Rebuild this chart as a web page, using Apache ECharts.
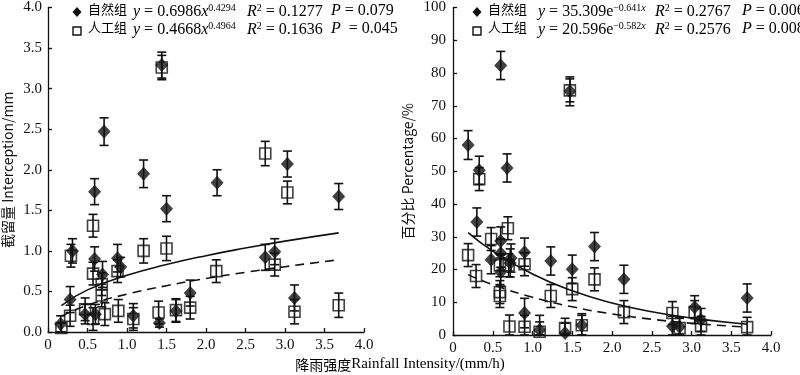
<!DOCTYPE html>
<html><head><meta charset="utf-8">
<script src="https://cdn.jsdelivr.net/npm/echarts@6/dist/echarts.min.js"></script>
<style>html,body{margin:0;padding:0;background:#fff}#c{width:800px;height:375px}</style>
</head><body><div id="c"></div>
<script>
// ---- Left panel: interception (mm) ----
const L_nat_x = [0.16,0.28,0.31,0.47,0.60,0.59,0.59,0.69,0.71,0.88,0.92,1.08,1.21,1.41,1.44,1.50,1.62,1.80,2.14,2.75,2.87,3.03,3.12,3.68];
const L_nat_y = [0.10,0.40,1.00,0.22,0.22,0.90,1.73,0.71,2.47,0.91,0.80,0.20,1.95,0.11,3.29,1.52,0.26,0.48,1.84,0.92,0.99,2.07,0.42,1.67];
const L_nat_e = [0.10,0.16,0.15,0.12,0.12,0.15,0.16,0.16,0.17,0.17,0.12,0.15,0.17,0.05,0.16,0.16,0.14,0.16,0.16,0.16,0.16,0.16,0.16,0.16];
const L_art_x = [0.17,0.28,0.29,0.47,0.57,0.57,0.57,0.68,0.68,0.72,0.88,0.89,1.08,1.21,1.40,1.44,1.50,1.62,1.80,2.13,2.75,2.87,3.03,3.12,3.68];
const L_art_y = [0.05,0.20,0.94,0.28,1.31,0.72,0.16,0.59,0.45,0.22,0.75,0.26,0.16,1.00,0.24,3.26,1.03,0.27,0.30,0.75,2.20,0.83,1.72,0.25,0.33];
const L_art_e = [0.06,0.13,0.14,0.14,0.14,0.14,0.14,0.14,0.14,0.14,0.14,0.14,0.14,0.15,0.14,0.15,0.15,0.14,0.14,0.14,0.15,0.14,0.14,0.15,0.15];
// fitted curves (values of the printed power equations)
const L_fitN_x = [0.17,0.5,1.0,1.5,2.0,2.5,3.0,3.68];
const L_fitN_y = [0.326,0.519,0.699,0.831,0.941,1.035,1.120,1.222];
const L_fitA_x = [0.17,0.5,1.0,1.5,2.0,2.5,3.0,3.68];
const L_fitA_y = [0.194,0.331,0.467,0.571,0.659,0.736,0.805,0.891];

// ---- Right panel: percentage (%) ----
const R_nat_x = [0.19,0.30,0.33,0.48,0.60,0.60,0.60,0.60,0.68,0.72,0.73,0.90,0.90,1.09,1.23,1.41,1.47,1.50,1.62,1.78,2.15,2.76,2.85,3.04,3.12,3.70];
const R_nat_y = [58.0,34.5,50.3,23.0,28.7,25.0,19.2,82.3,51.0,22.0,23.5,25.3,6.7,1.5,22.6,0.6,74.4,20.1,3.0,27.0,17.0,2.7,2.5,8.5,4.6,11.3];
const R_nat_e = [4.4,4.3,4.3,4.3,4.3,4.3,4.3,4.3,4.3,4.3,4.3,4.3,4.5,4.5,4.3,3.0,4.4,4.3,3.5,4.3,4.3,3.0,3.0,3.5,3.5,4.3];
const R_art_x = [0.19,0.29,0.33,0.48,0.59,0.59,0.59,0.69,0.70,0.71,0.90,0.90,1.09,1.23,1.41,1.47,1.50,1.62,1.78,2.15,2.76,2.85,3.04,3.12,3.70];
const R_art_y = [24.4,18.0,47.6,29.3,21.3,13.1,11.9,32.6,21.3,2.6,21.6,2.5,1.0,11.9,2.1,74.7,14.0,3.0,17.0,7.0,6.7,2.1,7.0,2.7,2.4];
const R_art_e = [3.5,3.5,3.5,3.5,3.5,3.5,3.5,3.5,3.5,3.5,3.5,3.5,3.0,3.5,3.0,3.5,3.5,3.0,3.5,3.5,3.5,3.0,3.5,3.0,3.0];
const R_fitN_x = [0.19,0.5,1.0,1.5,2.0,2.5,3.0,3.7];
const R_fitN_y = [31.26,25.63,18.60,13.50,9.80,7.11,5.16,3.30];
const R_fitA_x = [0.19,0.5,1.0,1.5,2.0,2.5,3.0,3.7];
const R_fitA_y = [18.44,15.40,11.51,8.60,6.43,4.81,3.59,2.39];

const xTicks = [0,0.5,1.0,1.5,2.0,2.5,3.0,3.5,4.0];

const SERIF = '"Liberation Serif","Times New Roman",serif';
const CJK = '"Noto Sans CJK SC","Liberation Serif",serif';

function pts(xs, ys){ return xs.map((x,i)=>[x, ys[i]]); }
function errs(xs, ys, es){ return xs.map((x,i)=>[x, Math.max(0, ys[i]-es[i]), ys[i]+es[i]]); }

function errSeries(data, xi, yi){
  return {
    type:'custom', xAxisIndex:xi, yAxisIndex:yi, data:data, z:2, silent:true,
    encode:{x:0, y:[1,2]},
    renderItem:function(params, api){
      const x=api.value(0), lo=api.value(1), hi=api.value(2);
      const a=api.coord([x,lo]), b=api.coord([x,hi]);
      const w=4.5, st={stroke:'#111', lineWidth:1.6};
      return {type:'group', children:[
        {type:'line', shape:{x1:a[0],y1:a[1],x2:b[0],y2:b[1]}, style:st},
        {type:'line', shape:{x1:a[0]-w,y1:a[1],x2:a[0]+w,y2:a[1]}, style:st},
        {type:'line', shape:{x1:b[0]-w,y1:b[1],x2:b[0]+w,y2:b[1]}, style:st}
      ]};
    }
  };
}
function scat(data, xi, yi, kind){
  if(kind==='d') return {type:'scatter', xAxisIndex:xi, yAxisIndex:yi, data:data, symbol:'diamond', symbolSize:[13,14], z:4,
    itemStyle:{color:'#111'}};
  return {type:'scatter', xAxisIndex:xi, yAxisIndex:yi, data:data, symbol:'rect', symbolSize:11, z:3,
    itemStyle:{color:'rgba(0,0,0,0)', borderColor:'#111', borderWidth:1.6}};
}
function fit(data, xi, yi, dashed){
  return {type:'line', xAxisIndex:xi, yAxisIndex:yi, data:data, smooth:true, showSymbol:false, symbol:'none', z:5,
    lineStyle:{color:'#111', width:1.6, type: dashed ? [9,6] : 'solid'}};
}

const axisCommon = {
  axisLine:{show:true, lineStyle:{color:'#111', width:1.3}},
  axisTick:{show:true, inside:true, length:4, lineStyle:{color:'#111', width:1.3}},
  splitLine:{show:false},
};
function xAxis(gi){
  return Object.assign({}, axisCommon, {type:'value', gridIndex:gi, min:0, max:4, interval:0.5,
    axisLabel:{fontFamily:SERIF, fontSize:15, color:'#111', margin:6,
      formatter:v=> v===0 ? '0' : v.toFixed(1)}});
}

const option = {
  animation:false,
  backgroundColor:'#fff',
  grid:[
    {left:48, right:436, top:4.5, bottom:43},
    {left:453, right:29, top:7, bottom:40}
  ],
  xAxis:[xAxis(0), xAxis(1)],
  yAxis:[
    Object.assign({}, axisCommon, {type:'value', gridIndex:0, min:0, max:4, interval:0.5,
      axisLabel:{fontFamily:SERIF, fontSize:15, color:'#111', margin:6, formatter:v=>v.toFixed(1)},
      name:'截留量 Interception/mm', nameLocation:'middle', nameGap:33, nameRotate:90,
      nameTextStyle:{fontFamily:CJK, fontSize:14, color:'#111'}}),
    Object.assign({}, axisCommon, {type:'value', gridIndex:1, min:0, max:100, interval:10,
      axisLabel:{fontFamily:SERIF, fontSize:15, color:'#111', margin:7},
      name:'百分比 Percentage/%', nameLocation:'middle', nameGap:38, nameRotate:90,
      nameTextStyle:{fontFamily:CJK, fontSize:14, color:'#111'}})
  ],
  series:[
    errSeries(errs(L_art_x,L_art_y,L_art_e),0,0),
    errSeries(errs(L_nat_x,L_nat_y,L_nat_e),0,0),
    scat(pts(L_art_x,L_art_y),0,0,'s'),
    scat(pts(L_nat_x,L_nat_y),0,0,'d'),
    fit(pts(L_fitN_x,L_fitN_y),0,0,false),
    fit(pts(L_fitA_x,L_fitA_y),0,0,true),
    errSeries(errs(R_art_x,R_art_y,R_art_e),1,1),
    errSeries(errs(R_nat_x,R_nat_y,R_nat_e),1,1),
    scat(pts(R_art_x,R_art_y),1,1,'s'),
    scat(pts(R_nat_x,R_nat_y),1,1,'d'),
    fit(pts(R_fitN_x,R_fitN_y),1,1,false),
    fit(pts(R_fitA_x,R_fitA_y),1,1,true)
  ]
};

// legend / equation text blocks
const rich = {
  c:{fontFamily:CJK, fontSize:13, color:'#111'},
  i:{fontFamily:SERIF, fontSize:16, fontStyle:'italic', color:'#111'},
  n:{fontFamily:SERIF, fontSize:16, color:'#111'},
  s:{fontFamily:SERIF, fontSize:10, color:'#111', verticalAlign:'top', padding:[0,0,8,0]},
  si:{fontFamily:SERIF, fontSize:10, fontStyle:'italic', color:'#111', padding:[0,0,8,0]}
};
function txt(x, y, t){
  return {type:'text', left:x, top:y, z:10, style:{text:t, rich:rich, textVerticalAlign:'top'}};
}
function diamond(cx, cy){
  return {type:'polygon', z:10, shape:{points:[[cx,cy-5],[cx+4.5,cy],[cx,cy+5],[cx-4.5,cy]]}, style:{fill:'#111'}};
}
function square(cx, cy){
  return {type:'rect', z:10, shape:{x:cx-4,y:cy-4,width:8,height:8}, style:{fill:'#fff', stroke:'#111', lineWidth:1.4}};
}
const L1=3, L2=21;
option.graphic = [
  diamond(77, 12), square(77, 31),
  txt(88, L1, '{c|自然组}'),
  txt(133, L1, '{i|y}{n| = 0.6986}{i|x}{s|0.4294}'),
  txt(247, L1, '{i|R}{s|2}{n| = 0.1277}'),
  txt(331, L1, '{i|P}{n| = 0.079}'),
  txt(88, L2, '{c|人工组}'),
  txt(133, L2, '{i|y}{n| = 0.4668}{i|x}{s|0.4964}'),
  txt(247, L2, '{i|R}{s|2}{n| = 0.1636}'),
  txt(331, L2, '{i|P}{n|  = 0.045}'),

  diamond(477, 12), square(477, 31),
  txt(488, L1, '{c|自然组}'),
  txt(538, L1, '{i|y}{n| = 35.309e}{s|−0.641}{si|x}'),
  txt(655, L1, '{i|R}{s|2}{n| = 0.2767}'),
  txt(742, L1, '{i|P}{n| = 0.006}'),
  txt(488, L2, '{c|人工组}'),
  txt(538, L2, '{i|y}{n| = 20.596e}{s|−0.582}{si|x}'),
  txt(655, L2, '{i|R}{s|2}{n| = 0.2576}'),
  txt(742, L2, '{i|P}{n| = 0.008}'),

  {type:'text', left:'center', top:357, z:10,
   style:{text:'{c|降雨强度}{n|Rainfall Intensity/(mm/h)}', rich:{
     c:{fontFamily:CJK, fontSize:14, color:'#111'},
     n:{fontFamily:SERIF, fontSize:15, color:'#111'}}}}
];

const chart = echarts.init(document.getElementById('c'), null, {renderer:'canvas'});
chart.setOption(option);
</script>
</body></html>
